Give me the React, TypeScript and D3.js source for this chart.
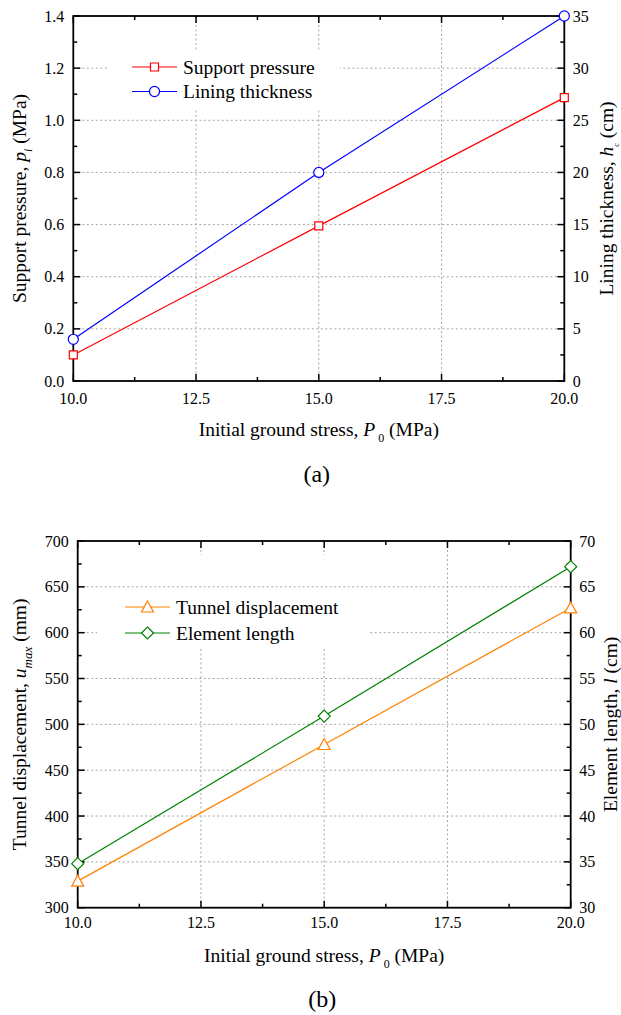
import React from "react";
import * as d3 from "d3";

// ---------- data ----------
const stressX = [10, 15, 20];
const supportPressure = [0.1, 0.595, 1.087];
const liningThickness = [4, 20, 35];
const tunnelDisplacement = [329, 478, 627];
const elementLength = [34.8, 50.9, 67.2];

const xTicks = [10, 12.5, 15, 17.5, 20];
const xMinor = [11.25, 13.75, 16.25, 18.75];
const aLeftTicks = [0, 0.2, 0.4, 0.6, 0.8, 1.0, 1.2, 1.4];
const aLeftMinor = [0.1, 0.3, 0.5, 0.7, 0.9, 1.1, 1.3];
const aRightTicks = [0, 5, 10, 15, 20, 25, 30, 35];
const aRightMinor = [2.5, 7.5, 12.5, 17.5, 22.5, 27.5, 32.5];
const bLeftTicks = [300, 350, 400, 450, 500, 550, 600, 650, 700];
const bLeftMinor = [325, 375, 425, 475, 525, 575, 625, 675];
const bRightTicks = [30, 35, 40, 45, 50, 55, 60, 65, 70];
const bRightMinor = [32.5, 37.5, 42.5, 47.5, 52.5, 57.5, 62.5, 67.5];

const FONT = "Liberation Serif";
const GRID = "#a6a6a6";

type Seg = { t: string; italic?: boolean; sub?: boolean; subSize?: number };

function RichText({ segs, size, ...rest }: { segs: Seg[]; size: number; [k: string]: any }) {
  const out: any[] = [];
  let shifted = false;
  segs.forEach((s, i) => {
    let dy = 0;
    if (s.sub && !shifted) { dy = size * 0.3; shifted = true; }
    else if (!s.sub && shifted) { dy = -size * 0.3; shifted = false; }
    out.push(
      <tspan key={i} dy={dy || undefined} fontStyle={s.italic ? "italic" : "normal"}
        fontSize={s.sub ? (s.subSize ?? size * 0.62) : size}>{s.t}</tspan>
    );
  });
  return <text fontFamily={FONT} fontSize={size} fill="#000" {...rest}>{out}</text>;
}

type Marker = "square" | "circle" | "triangle" | "diamond";

function markerPath(m: Marker): string {
  if (m === "square") return d3.symbol(d3.symbolSquare, 64)() as string;
  if (m === "circle") return d3.symbol(d3.symbolCircle, 80)() as string;
  if (m === "triangle") return "M0,-6L6,5L-6,5Z";
  return "M0,-6L6,0L0,6L-6,0Z";
}

type Series = { x: number[]; y: number[]; axis: "left" | "right"; color: string; marker: Marker; name: string };

type PanelProps = {
  left: number; right: number; top: number; bottom: number;
  yL: [number, number]; yR: [number, number];
  yLTicks: number[]; yLMinor: number[]; yRTicks: number[]; yRMinor: number[];
  yLFmt: (v: number) => string; yRFmt: (v: number) => string;
  series: Series[];
  leftTitle: Seg[]; rightTitle: Seg[];
  leftTitleX: number; rightTitleX: number;
  xTickBaseline: number; xTitleBaseline: number;
  label: string; labelBaseline: number;
  legendX: number; legendY: number[]; 
  masksV: { x: number; y: number; w: number; h: number }[];
  masksH: { x: number; y: number; w: number; h: number }[];
};

function Panel(p: PanelProps) {
  const x = d3.scaleLinear().domain([10, 20]).range([p.left, p.right]);
  const yl = d3.scaleLinear().domain(p.yL).range([p.bottom, p.top]);
  const yr = d3.scaleLinear().domain(p.yR).range([p.bottom, p.top]);
  const MAJ = 7, MIN = 4;
  const line = (s: Series) => {
    const ys = s.axis === "left" ? yl : yr;
    return d3.line<number>().x((_, i) => x(s.x[i])).y((v) => ys(v))(s.y) as string;
  };
  const innerX = xTicks.slice(1, -1);
  const innerY = p.yLTicks.slice(1, -1);
  return (
    <g>
      {innerX.map((v) => (
        <line key={"gv" + v} x1={x(v)} x2={x(v)} y1={p.top} y2={p.bottom} stroke={GRID} strokeWidth={1} strokeDasharray="2,2.5" />
      ))}
      {p.masksV.map((m, i) => <rect key={"mv" + i} x={m.x} y={m.y} width={m.w} height={m.h} fill="#fff" />)}
      {innerY.map((v) => (
        <line key={"gh" + v} x1={p.left} x2={p.right} y1={yl(v)} y2={yl(v)} stroke={GRID} strokeWidth={1} strokeDasharray="2,2.5" />
      ))}
      {p.masksH.map((m, i) => <rect key={"mh" + i} x={m.x} y={m.y} width={m.w} height={m.h} fill="#fff" />)}

      <rect x={p.left} y={p.top} width={p.right - p.left} height={p.bottom - p.top} fill="none" stroke="#000" strokeWidth={1.8} />
      {xTicks.map((v) => (
        <g key={"xt" + v}>
          <line x1={x(v)} x2={x(v)} y1={p.bottom} y2={p.bottom - MAJ} stroke="#000" strokeWidth={1.5} />
          <line x1={x(v)} x2={x(v)} y1={p.top} y2={p.top + MAJ} stroke="#000" strokeWidth={1.5} />
          <text x={x(v)} y={p.xTickBaseline} textAnchor="middle" fontFamily={FONT} fontSize={16}>{d3.format(".1f")(v)}</text>
        </g>
      ))}
      {xMinor.map((v) => (
        <g key={"xm" + v}>
          <line x1={x(v)} x2={x(v)} y1={p.bottom} y2={p.bottom - MIN} stroke="#000" strokeWidth={1.5} />
          <line x1={x(v)} x2={x(v)} y1={p.top} y2={p.top + MIN} stroke="#000" strokeWidth={1.5} />
        </g>
      ))}
      {p.yLTicks.map((v) => (
        <g key={"yl" + v}>
          <line x1={p.left} x2={p.left + MAJ} y1={yl(v)} y2={yl(v)} stroke="#000" strokeWidth={1.5} />
          <text x={p.left - 9} y={yl(v) + 5.5} textAnchor="end" fontFamily={FONT} fontSize={16}>{p.yLFmt(v)}</text>
        </g>
      ))}
      {p.yLMinor.map((v) => (
        <line key={"ylm" + v} x1={p.left} x2={p.left + MIN} y1={yl(v)} y2={yl(v)} stroke="#000" strokeWidth={1.5} />
      ))}
      {p.yRTicks.map((v) => (
        <g key={"yr" + v}>
          <line x1={p.right} x2={p.right - MAJ} y1={yr(v)} y2={yr(v)} stroke="#000" strokeWidth={1.5} />
          <text x={p.right + 8.5} y={yr(v) + 5.5} textAnchor="start" fontFamily={FONT} fontSize={16}>{p.yRFmt(v)}</text>
        </g>
      ))}
      {p.yRMinor.map((v) => (
        <line key={"yrm" + v} x1={p.right} x2={p.right - MIN} y1={yr(v)} y2={yr(v)} stroke="#000" strokeWidth={1.5} />
      ))}

      {p.series.map((s) => (
        <path key={"l" + s.name} d={line(s)} fill="none" stroke={s.color} strokeWidth={1.2} />
      ))}
      {p.series.map((s) => {
        const ys = s.axis === "left" ? yl : yr;
        return s.y.map((v, i) => (
          <path key={"m" + s.name + i} d={markerPath(s.marker)} transform={`translate(${x(s.x[i])},${ys(v)})`}
            fill="#fff" stroke={s.color} strokeWidth={1.2} />
        ));
      })}

      {p.series.map((s, i) => (
        <g key={"lg" + s.name}>
          <line x1={p.legendX} x2={p.legendX + 45} y1={p.legendY[i]} y2={p.legendY[i]} stroke={s.color} strokeWidth={1.2} />
          <path d={markerPath(s.marker)} transform={`translate(${p.legendX + 22.5},${p.legendY[i]})`} fill="#fff" stroke={s.color} strokeWidth={1.2} />
          <text x={p.legendX + 51} y={p.legendY[i] + 6.5} fontFamily={FONT} fontSize={19.5}>{s.name}</text>
        </g>
      ))}

      <RichText size={19.5} segs={p.leftTitle} textAnchor="middle"
        transform={`translate(${p.leftTitleX},${(p.top + p.bottom) / 2}) rotate(-90)`} />
      <RichText size={19.5} segs={p.rightTitle} textAnchor="middle"
        transform={`translate(${p.rightTitleX},${(p.top + p.bottom) / 2}) rotate(-90)`} />
      <RichText size={19.5} textAnchor="middle" x={(p.left + p.right) / 2} y={p.xTitleBaseline}
        segs={[{ t: "Initial ground stress, " }, { t: "P", italic: true }, { t: "\u00a00", sub: true, subSize: 12 }, { t: " (MPa)" }]} />
      <text x={(p.left + p.right) / 2 - 2} y={p.labelBaseline} textAnchor="middle" fontFamily={FONT} fontSize={24}>{p.label}</text>
    </g>
  );
}

export default function App() {
  return (
    <svg width={621} height={1015} viewBox="0 0 621 1015" style={{ position: "absolute", left: 0, top: 0, background: "#fff" }}>
      <rect width={621} height={1015} fill="#fff" />
      <Panel
        left={73.3} right={564.3} top={16} bottom={381}
        yL={[0, 1.4]} yR={[0, 35]}
        yLTicks={aLeftTicks} yLMinor={aLeftMinor} yRTicks={aRightTicks} yRMinor={aRightMinor}
        yLFmt={d3.format(".1f")} yRFmt={d3.format("d")}
        series={[
          { x: stressX, y: supportPressure, axis: "left", color: "#ff0000", marker: "square", name: "Support pressure" },
          { x: stressX, y: liningThickness, axis: "right", color: "#0000ff", marker: "circle", name: "Lining thickness" },
        ]}
        leftTitle={[{ t: "Support pressure, " }, { t: "p", italic: true }, { t: "i", italic: true, sub: true, subSize: 12 }, { t: " (MPa)" }]}
        rightTitle={[{ t: "Lining thickness, " }, { t: "h", italic: true }, { t: "c", sub: true, subSize: 8 }, { t: " (cm)" }]}
        leftTitleX={26} rightTitleX={613}
        xTickBaseline={404} xTitleBaseline={436}
        label="(a)" labelBaseline={482}
        legendX={132} legendY={[67, 91.5]}
        masksV={[{ x: 108, y: 50, w: 232, h: 58 }]}
        masksH={[{ x: 108, y: 50, w: 232, h: 58 }]}
      />
      <Panel
        left={77.7} right={570.7} top={541} bottom={907.7}
        yL={[300, 700]} yR={[30, 70]}
        yLTicks={bLeftTicks} yLMinor={bLeftMinor} yRTicks={bRightTicks} yRMinor={bRightMinor}
        yLFmt={d3.format("d")} yRFmt={d3.format("d")}
        series={[
          { x: stressX, y: tunnelDisplacement, axis: "left", color: "#ff8000", marker: "triangle", name: "Tunnel displacement" },
          { x: stressX, y: elementLength, axis: "right", color: "#008000", marker: "diamond", name: "Element length" },
        ]}
        leftTitle={[{ t: "Tunnel displacement, " }, { t: "u", italic: true }, { t: "max", italic: true, sub: true, subSize: 13 }, { t: " (mm)" }]}
        rightTitle={[{ t: "Element length, " }, { t: "l", italic: true }, { t: " (cm)" }]}
        leftTitleX={26} rightTitleX={617}
        xTickBaseline={928} xTitleBaseline={962}
        label="(b)" labelBaseline={1007}
        legendX={125} legendY={[607, 633]}
        masksV={[{ x: 97, y: 555, w: 271, h: 93 }]}
        masksH={[{ x: 97, y: 597, w: 271, h: 51 }]}
      />
    </svg>
  );
}
